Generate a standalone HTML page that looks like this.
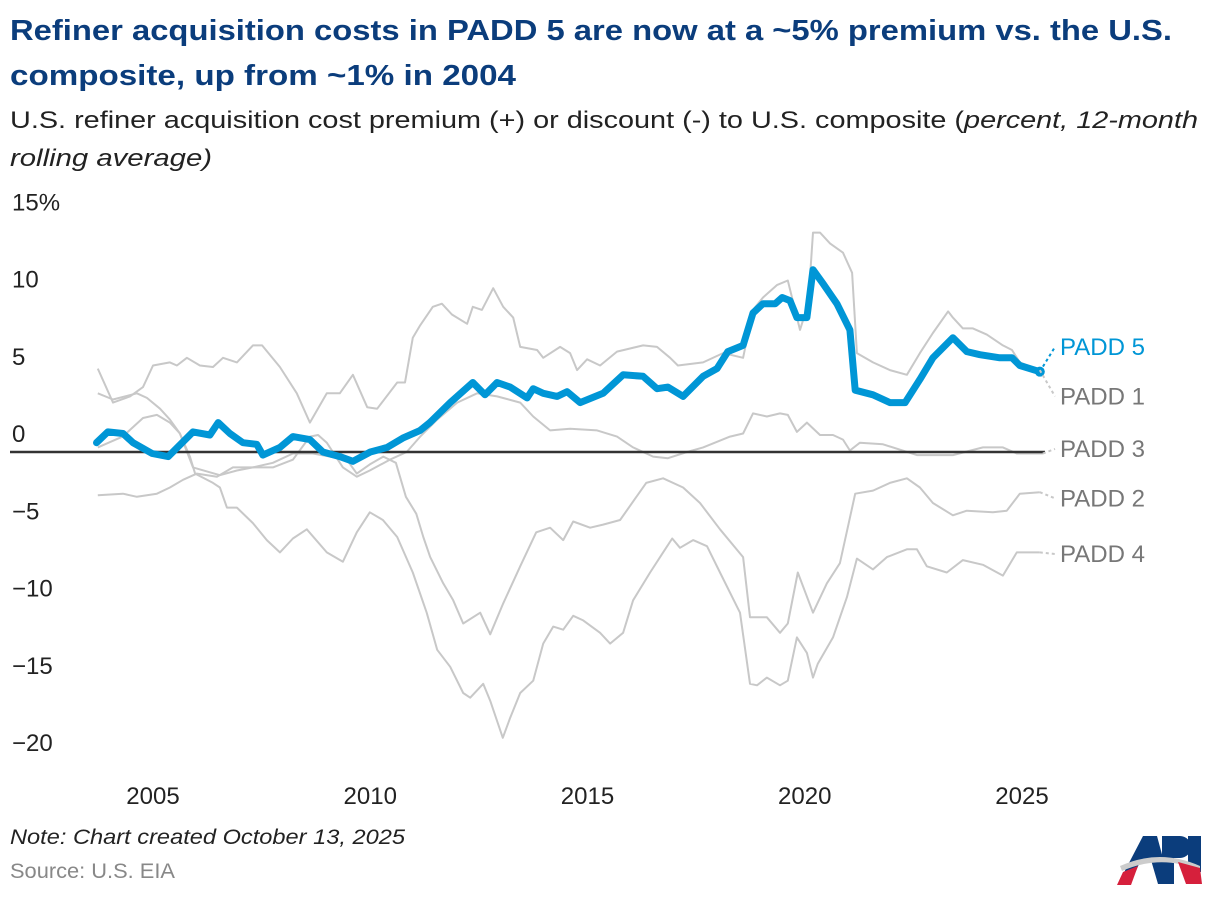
<!DOCTYPE html>
<html><head><meta charset="utf-8"><style>
body{margin:0;background:#fff;width:1220px;height:898px;overflow:hidden;font-family:"Liberation Sans",sans-serif}
</style></head><body>
<svg id="chart" width="1220" height="898" xmlns="http://www.w3.org/2000/svg">
<text x="10" y="40" font-size="29" font-weight="bold" fill="#0b3d7c" textLength="1162" lengthAdjust="spacingAndGlyphs" font-family="Liberation Sans, sans-serif">Refiner acquisition costs in PADD 5 are now at a ~5% premium vs. the U.S.</text>
<text x="10" y="85" font-size="29" font-weight="bold" fill="#0b3d7c" textLength="506" lengthAdjust="spacingAndGlyphs" font-family="Liberation Sans, sans-serif">composite, up from ~1% in 2004</text>
<text x="10" y="128" font-size="24" fill="#222" textLength="1188" lengthAdjust="spacingAndGlyphs" font-family="Liberation Sans, sans-serif">U.S. refiner acquisition cost premium (+) or discount (-) to U.S. composite (<tspan font-style="italic">percent, 12-month</tspan></text>
<text x="10" y="166" font-size="24" fill="#222" font-style="italic" textLength="202" lengthAdjust="spacingAndGlyphs" font-family="Liberation Sans, sans-serif">rolling average)</text>
<g id="yaxis"></g>
<g id="xaxis"></g>
<g id="series"></g>
<text x="10" y="844" font-size="21" font-style="italic" fill="#222" textLength="395" lengthAdjust="spacingAndGlyphs" font-family="Liberation Sans, sans-serif">Note: Chart created October 13, 2025</text>
<text x="10" y="878" font-size="21" fill="#888" textLength="165" lengthAdjust="spacingAndGlyphs" font-family="Liberation Sans, sans-serif">Source: U.S. EIA</text>
<g>
<path d="M1118,884 L1143,836 L1157,836 L1170,884 L1158,884 L1151,860 L1140,862 L1130,884 z" fill="#0b3d7c"/>
<path d="M1162,836 h18 a11,11 0 0 1 0,22 h-6 l0,26 h-12 z" fill="#0b3d7c"/>
<rect x="1188" y="836" width="13" height="36" fill="#0b3d7c"/>
<path d="M1120,866 Q1160,848 1200,866 L1200,870 Q1160,854 1122,871 z" fill="#ccc"/>
<polygon points="1117,885 1123,872 1138,866 1131,885" fill="#d6203c"/>
<polygon points="1178,862 1200,868 1202,884 1186,884" fill="#d6203c"/>
</g>
</svg>
<script>
const yTicks=[15,10,5,0,-5,-10,-15,-20];
const yTickLabels=["15%","10","5","0","\u22125","\u221210","\u221215","\u221220"];
const xTicks=[2005,2010,2015,2020,2025];
const padd5=[[2003.70,0.6],[2003.96,1.3],[2004.31,1.2],[2004.54,0.6],[2004.98,-0.1],[2005.35,-0.3],[2005.92,1.3],[2006.31,1.1],[2006.5,1.9],[2006.77,1.2],[2007.07,0.6],[2007.39,0.5],[2007.53,-0.2],[2007.92,0.3],[2008.22,1.0],[2008.61,0.8],[2008.91,0],[2009.3,-0.3],[2009.6,-0.6],[2010.0,0],[2010.39,0.3],[2010.75,0.9],[2011.15,1.4],[2011.37,1.9],[2011.84,3.2],[2012.36,4.5],[2012.64,3.7],[2012.92,4.5],[2013.22,4.2],[2013.61,3.5],[2013.75,4.1],[2013.98,3.8],[2014.3,3.6],[2014.53,3.9],[2014.83,3.2],[2015.36,3.8],[2015.82,5.0],[2016.28,4.9],[2016.6,4.1],[2016.85,4.2],[2017.2,3.6],[2017.66,4.9],[2017.98,5.4],[2018.23,6.5],[2018.58,6.9],[2018.81,9.0],[2019.04,9.6],[2019.32,9.6],[2019.48,10.0],[2019.66,9.8],[2019.82,8.7],[2020.05,8.7],[2020.19,11.8],[2020.42,10.9],[2020.74,9.6],[2021.04,7.9],[2021.16,4.0],[2021.57,3.7],[2021.96,3.2],[2022.31,3.2],[2022.65,4.7],[2022.95,6.1],[2023.41,7.4],[2023.73,6.5],[2024.03,6.3],[2024.49,6.1],[2024.77,6.1],[2024.95,5.6],[2025.41,5.2]];
const padd1=[[2003.73,5.4],[2004.08,3.2],[2004.47,3.6],[2004.77,4.2],[2005.0,5.6],[2005.39,5.8],[2005.55,5.6],[2005.78,6.1],[2006.08,5.6],[2006.38,5.5],[2006.61,6.1],[2006.93,5.8],[2007.3,6.9],[2007.51,6.9],[2007.92,5.5],[2008.31,3.8],[2008.61,1.9],[2009.0,3.8],[2009.3,3.8],[2009.6,5.0],[2009.93,2.9],[2010.16,2.8],[2010.62,4.5],[2010.8,4.5],[2010.98,7.4],[2011.15,8.2],[2011.44,9.4],[2011.65,9.6],[2011.88,8.9],[2012.23,8.3],[2012.36,9.4],[2012.57,9.2],[2012.83,10.6],[2013.06,9.4],[2013.29,8.7],[2013.45,6.8],[2013.84,6.6],[2013.98,6.1],[2014.37,6.8],[2014.6,6.4],[2014.76,5.3],[2014.99,6.0],[2015.29,5.6],[2015.68,6.5],[2016.28,6.9],[2016.6,6.8],[2016.9,6.1],[2017.08,5.6],[2017.66,5.8],[2018.12,6.4],[2018.28,6.3],[2018.58,6.1],[2018.81,9.2],[2019.04,10.0],[2019.36,10.8],[2019.61,11.1],[2019.89,7.9],[2020.08,9.6],[2020.19,14.2],[2020.35,14.2],[2020.58,13.5],[2020.88,12.9],[2021.09,11.6],[2021.2,6.4],[2021.57,5.8],[2021.96,5.3],[2022.35,5.0],[2022.65,6.4],[2022.95,7.7],[2023.3,9.1],[2023.41,8.7],[2023.64,8.0],[2023.87,8.0],[2024.19,7.6],[2024.56,6.9],[2024.77,6.6],[2024.95,5.8],[2025.41,5.3]];
const padd3=[[2003.73,0.3],[2004.3,1.0],[2004.77,2.2],[2005.09,2.4],[2005.39,1.9],[2005.62,1.2],[2005.92,-1.0],[2006.54,-1.5],[2006.93,-1.2],[2007.3,-1.0],[2007.76,-1.0],[2008.22,-0.5],[2008.61,1.0],[2008.8,1.1],[2009.0,0.6],[2009.37,-1.0],[2009.69,-1.6],[2009.99,-1.2],[2010.45,-0.5],[2010.84,0.0],[2011.15,1.0],[2011.54,2.1],[2012.0,3.2],[2012.46,3.8],[2012.92,3.6],[2013.45,3.2],[2013.75,2.3],[2014.14,1.4],[2014.6,1.5],[2015.22,1.4],[2015.68,1.0],[2016.05,0.3],[2016.51,-0.3],[2016.85,-0.4],[2017.29,0.0],[2017.66,0.3],[2018.28,1.0],[2018.58,1.2],[2018.81,2.5],[2019.13,2.3],[2019.43,2.5],[2019.61,2.4],[2019.82,1.3],[2020.05,1.9],[2020.35,1.1],[2020.65,1.1],[2020.88,0.8],[2021.04,0.1],[2021.27,0.6],[2021.8,0.5],[2022.58,-0.2],[2023.41,-0.2],[2024.1,0.3],[2024.56,0.3],[2024.88,-0.1],[2025.48,-0.1]];
const padd2=[[2003.73,-2.8],[2004.31,-2.7],[2004.63,-2.9],[2005.09,-2.7],[2005.39,-2.3],[2005.69,-1.8],[2006.01,-1.4],[2006.47,-1.6],[2006.84,-1.0],[2007.3,-1.0],[2007.76,-0.7],[2008.22,-0.1],[2008.68,-0.1],[2009.46,-0.5],[2009.69,-1.4],[2009.99,-0.8],[2010.3,-0.3],[2010.59,-0.7],[2010.82,-2.9],[2011.06,-4.0],[2011.22,-5.5],[2011.38,-6.8],[2011.68,-8.5],[2011.91,-9.6],[2012.14,-11.1],[2012.53,-10.4],[2012.76,-11.8],[2013.06,-9.8],[2013.45,-7.4],[2013.82,-5.2],[2014.14,-4.9],[2014.44,-5.7],[2014.67,-4.5],[2015.06,-4.9],[2015.36,-4.7],[2015.75,-4.4],[2016.35,-2.0],[2016.74,-1.7],[2017.2,-2.3],[2017.59,-3.3],[2018.05,-5.0],[2018.58,-6.8],[2018.74,-10.7],[2019.13,-10.7],[2019.43,-11.7],[2019.61,-11.1],[2019.84,-7.8],[2020.19,-10.4],[2020.51,-8.5],[2020.81,-7.2],[2021.16,-2.7],[2021.57,-2.5],[2021.96,-2.0],[2022.35,-1.7],[2022.65,-2.3],[2022.95,-3.3],[2023.41,-4.1],[2023.73,-3.8],[2024.33,-3.9],[2024.65,-3.8],[2024.95,-2.7],[2025.41,-2.6]];
const padd4=[[2003.73,3.8],[2004.08,3.4],[2004.63,3.8],[2004.86,3.5],[2005.16,2.8],[2005.39,2.1],[2005.62,1.2],[2005.85,-0.3],[2005.97,-1.4],[2006.38,-2.0],[2006.54,-2.3],[2006.7,-3.6],[2006.93,-3.6],[2007.3,-4.6],[2007.62,-5.7],[2007.92,-6.5],[2008.22,-5.6],[2008.54,-5.0],[2009.0,-6.5],[2009.37,-7.1],[2009.69,-5.2],[2009.99,-3.9],[2010.29,-4.4],[2010.62,-5.5],[2010.98,-7.8],[2011.3,-10.4],[2011.54,-12.8],[2011.84,-13.9],[2012.14,-15.6],[2012.3,-15.9],[2012.6,-15.0],[2012.76,-16.1],[2013.05,-18.5],[2013.22,-17.2],[2013.45,-15.6],[2013.75,-14.8],[2013.98,-12.4],[2014.21,-11.3],[2014.44,-11.5],[2014.67,-10.6],[2014.9,-10.9],[2015.29,-11.7],[2015.52,-12.4],[2015.82,-11.7],[2016.05,-9.6],[2016.44,-7.8],[2016.74,-6.5],[2016.95,-5.6],[2017.13,-6.2],[2017.43,-5.7],[2017.75,-6.1],[2018.05,-7.8],[2018.51,-10.4],[2018.74,-15.0],[2018.9,-15.1],[2019.13,-14.6],[2019.43,-15.1],[2019.61,-14.8],[2019.82,-12.0],[2020.05,-13.0],[2020.19,-14.6],[2020.3,-13.7],[2020.65,-12.0],[2020.97,-9.4],[2021.2,-6.9],[2021.57,-7.6],[2021.89,-6.8],[2022.35,-6.3],[2022.58,-6.3],[2022.81,-7.4],[2023.27,-7.8],[2023.64,-7.0],[2024.1,-7.3],[2024.56,-8.0],[2024.88,-6.5],[2025.41,-6.5]];
const labelNames=["PADD 5","PADD 1","PADD 3","PADD 2","PADD 4"];
const labelValues=[6.8,3.6,0.2,-3.0,-6.6];

const NS="http://www.w3.org/2000/svg";
function xS(t){return 153+(t-2005)*43.45;}
function yS(v){return 452-v*15.45;}
function mk(tag,attrs,parent){const e=document.createElementNS(NS,tag);for(const k in attrs)e.setAttribute(k,attrs[k]);parent.appendChild(e);return e;}
const ya=document.getElementById('yaxis'),xa=document.getElementById('xaxis'),sg=document.getElementById('series');
yTicks.forEach((v,i)=>{const t=mk('text',{x:12,y:yS(v)-10,'font-size':24,fill:'#222','font-family':'Liberation Sans, sans-serif'},ya);


t.textContent=yTickLabels[i];});
xTicks.forEach(y=>{const t=mk('text',{x:xS(y),y:804,'font-size':24,fill:'#222','text-anchor':'middle','font-family':'Liberation Sans, sans-serif'},xa);


t.textContent=y;});
function path(d){return d.map((p,i)=>(i?'L':'M')+xS(p[0]).toFixed(1)+','+yS(p[1]).toFixed(1)).join('');}
const grays=[[padd1,'padd1-line'],[padd3,'padd3-line'],[padd2,'padd2-line'],[padd4,'padd4-line']];
grays.forEach(g=>{const p=mk('path',{d:path(g[0]),fill:'none',stroke:'#c8c8c8','stroke-width':2,'stroke-linejoin':'round'},sg);

});
const zl=mk('line',{x1:10,x2:1045,y1:yS(0),y2:yS(0),stroke:'#333','stroke-width':2.5},sg);


const bl=mk('path',{d:path(padd5),fill:'none',stroke:'#0096d6','stroke-width':7,'stroke-linejoin':'round','stroke-linecap':'round'},sg);


const last=padd5[padd5.length-1];
const dot=mk('circle',{cx:xS(last[0]),cy:yS(last[1]),r:5,fill:'#0096d6'},sg);


const all=[padd5,padd1,padd3,padd2,padd4];
labelNames.forEach((n,i)=>{const s=all[i],e=s[s.length-1];const c=i===0?'#0096d6':'#c8c8c8';
const ly=yS(labelValues[i]);
const ld=mk('line',{x1:xS(e[0]),y1:yS(e[1]),x2:1055,y2:ly,stroke:c,'stroke-width':2,'stroke-dasharray':'3,3'},sg);


const t=mk('text',{x:1060,y:ly+8,'font-size':24,fill:i===0?'#0096d6':'#777','font-family':'Liberation Sans, sans-serif'},sg);


t.textContent=n;});
</script>
</body></html>
